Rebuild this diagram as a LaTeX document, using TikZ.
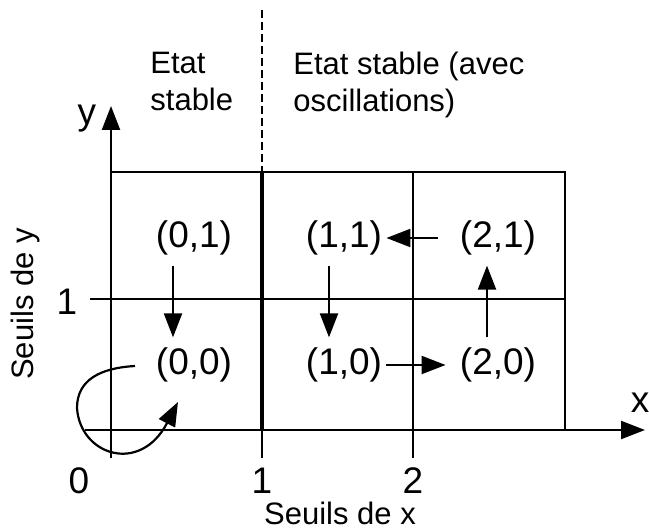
\documentclass[tikz,border=0pt]{standalone}
\usepackage{fontspec}
\setmainfont{Liberation Sans}
\usetikzlibrary{arrows.meta, positioning, calc}

\begin{document}
\begin{tikzpicture}[x=0.5pt, y=-0.5pt,
  trait/.style={line width=1.1pt},
  fleche/.style={line width=1.1pt, -{Triangle[length=12pt, width=9pt]}},
  etat/.style={font=\fontsize{18.5}{22}\selectfont, inner xsep=2pt, inner ysep=5pt},
  legende/.style={font=\fontsize{15.5}{18.5}\selectfont, inner sep=0pt},
  zone/.style={font=\fontsize{15.5}{18.5}\selectfont, align=left, anchor=north west, inner sep=0pt}]
\useasboundingbox (0,0) rectangle (649,529);

% Grille des seuils
\draw[trait] (111,172) -- (565,172) -- (565,430);
\draw[trait] (90,299) -- (565,299);
\draw[line width=2pt] (262,172) -- (262,430);
\draw[trait] (262,430) -- (262,458);
\draw[trait] (413,172) -- (413,458);
\draw[line width=0.8pt, dash pattern=on 4pt off 2pt] (262,10) -- (262,172);

% Axes
\draw[fleche] (111,458) -- (111,106);
\draw[fleche] (85,430) -- (645,430);
\node[etat, inner sep=0pt] (axey) at (87,119) {y};
\node[etat, inner sep=0pt] (axex) at (640,403) {x};
\node[etat, inner sep=0pt] (s0) at (79,481) {0};
\node[etat, inner sep=0pt] (sx1) at (262,481) {1};
\node[etat, inner sep=0pt] (sx2) at (413,481) {2};
\node[etat, inner sep=0pt] (sy1) at (67,302) {1};
\node[legende] (seuilsx) at (340,513) {Seuils de x};
\node[legende, rotate=90] (seuilsy) at (25,304) {Seuils de y};

% Zones
\node[zone] (stable) at (150,52) {Etat\\stable};
\node[zone] (oscil) at (293,52) {Etat stable (avec\\oscillations)};

% Etats
\node[etat] (n01) at (194,238) {(0,1)};
\node[etat] (n11) at (344,238) {(1,1)};
\node[etat] (n21) at (498,238) {(2,1)};
\node[etat] (n00) at (194,365) {(0,0)};
\node[etat] (n10) at (344,365) {(1,0)};
\node[etat] (n20) at (498,365) {(2,0)};

% Transitions
\draw[fleche] ([xshift=-10.5pt]n01.south) -- ([xshift=-10.5pt]n00.north);
\draw[fleche] ([xshift=-7.5pt]n11.south) -- ([xshift=-7.5pt]n10.north);
\draw[fleche] ([xshift=-5.5pt]n20.north) -- ([xshift=-5.5pt]n21.south);
\draw[fleche, shorten >=5pt] (n10.east) -- (n20.west);
\draw[fleche, shorten <=9pt] (n21.west) -- (n11.east);

% Boucle sur (0,0)
\coordinate (boucle) at (135,366);
\draw[fleche] (boucle) .. controls (100,368) and (77,380) .. (77,408)
  .. controls (80,455) and (140,475) .. (178,402);
\end{tikzpicture}
\end{document}
